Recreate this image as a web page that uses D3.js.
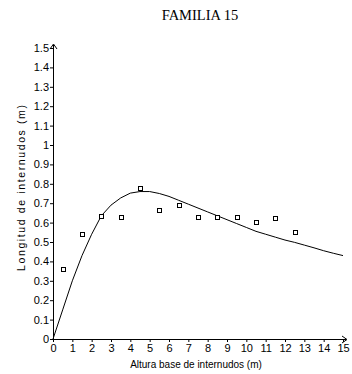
<!DOCTYPE html>
<html>
<head>
<meta charset="utf-8">
<script src="https://cdn.jsdelivr.net/npm/d3@7"></script>
<style>
  body { margin: 0; background: #fff; }
  text { font-family: "Liberation Sans", Arial, sans-serif; }
</style>
</head>
<body>
<svg id="chart"></svg>
<script>
// observed points (squares)
let pointX = [0.5, 1.5, 2.5, 3.5, 4.5, 5.5, 6.5, 7.5, 8.5, 9.5, 10.5, 11.5, 12.5];
let pointY = [0.36, 0.54, 0.635, 0.63, 0.78, 0.665, 0.69, 0.63, 0.63, 0.63, 0.605, 0.625, 0.55];

// fitted curve
let curveX = [0, 0.5, 1, 1.5, 2, 2.5, 3, 3.5, 4, 4.5, 5, 5.5, 6, 6.5, 7, 7.5, 8, 8.5, 9, 9.5, 10, 10.5, 11, 11.5, 12, 12.5, 13, 13.5, 14, 14.5, 15];
let curveY = [0, 0.15, 0.3, 0.43, 0.54, 0.635, 0.69, 0.727, 0.752, 0.76, 0.76, 0.75, 0.735, 0.715, 0.695, 0.675, 0.655, 0.635, 0.615, 0.595, 0.575, 0.555, 0.54, 0.525, 0.51, 0.498, 0.484, 0.47, 0.455, 0.442, 0.43];

let xTicks = d3.range(0, 16);
let yTicks = d3.range(0, 16).map(d => d / 10);

let width = 352;
let height = 374;

let svg = d3.select("#chart")
    .attr("width", width)
    .attr("height", height);

let scaleX = d3.scaleLinear().domain([0, 15]).range([53, 343]);
let scaleY = d3.scaleLinear().domain([0, 1.5]).range([339, 48]);

// title
svg.append("text")
    .attr("x", 200)
    .attr("y", 20)
    .attr("text-anchor", "middle")
    .style("font-family", "'Liberation Serif', 'Times New Roman', serif")
    .style("font-size", "14.5px")
    .text("FAMILIA 15");

// axes
let axisX = d3.axisBottom(scaleX)
    .tickValues(xTicks)
    .tickSize(3)
    .tickPadding(2)
    .tickFormat(d3.format("d"));

let axisY = d3.axisLeft(scaleY)
    .tickValues(yTicks)
    .tickSize(3)
    .tickPadding(1)
    .tickFormat(d => d === 0 ? "0" : d === 1 ? "1" : d3.format(".1f")(d));

let gx = svg.append("g")
    .attr("transform", `translate(0, ${scaleY(0)})`)
    .call(axisX);

let gy = svg.append("g")
    .attr("transform", `translate(${scaleX(0)}, 0)`)
    .call(axisY);

[gx, gy].forEach(g => {
    g.select(".domain").remove();
    g.selectAll("text")
        .style("font-size", "11px")
        .attr("fill", "#000");
    g.selectAll("line").attr("stroke", "#000");
});

// axis lines with arrow heads
svg.append("line")
    .attr("x1", scaleX(0)).attr("x2", scaleX(15) + 3)
    .attr("y1", scaleY(0) + 0.5).attr("y2", scaleY(0) + 0.5)
    .attr("stroke", "#000");
svg.append("path")
    .attr("d", `M${scaleX(15) - 1},${scaleY(0) - 3}L${scaleX(15) + 4},${scaleY(0) + 0.5}L${scaleX(15) - 1},${scaleY(0) + 4}`)
    .attr("fill", "none")
    .attr("stroke", "#000");

svg.append("line")
    .attr("x1", scaleX(0) + 0.5).attr("x2", scaleX(0) + 0.5)
    .attr("y1", scaleY(0)).attr("y2", scaleY(1.5) - 3)
    .attr("stroke", "#000");
svg.append("path")
    .attr("d", `M${scaleX(0) - 3},${scaleY(1.5) + 1}L${scaleX(0) + 0.5},${scaleY(1.5) - 4}L${scaleX(0) + 4},${scaleY(1.5) + 1}`)
    .attr("fill", "none")
    .attr("stroke", "#000");

// axis labels
svg.append("text")
    .attr("x", 196)
    .attr("y", 368)
    .attr("text-anchor", "middle")
    .style("font-size", "10px")
    .text("Altura base de internudos (m)");

svg.append("text")
    .attr("transform", "translate(25, 188) rotate(-90)")
    .attr("text-anchor", "middle")
    .attr("textLength", 166)
    .attr("lengthAdjust", "spacing")
    .style("font-size", "10.5px")
    .text("Longitud de internudos (m)");

// curve
let curve = curveX.map((x, i) => [x, curveY[i]]);
svg.append("path")
    .datum(curve)
    .attr("fill", "none")
    .attr("stroke", "#000")
    .attr("stroke-width", 1)
    .attr("d", d3.line().x(d => scaleX(d[0])).y(d => scaleY(d[1])));

// points
let points = pointX.map((x, i) => [x, pointY[i]]);
svg.append("g")
    .selectAll("rect")
    .data(points)
    .join("rect")
    .attr("x", d => Math.round(scaleX(d[0])) - 2 + 0.5)
    .attr("y", d => Math.round(scaleY(d[1])) - 2 + 0.5)
    .attr("width", 4)
    .attr("height", 4)
    .attr("fill", "#fff")
    .attr("stroke", "#000")
    .attr("stroke-width", 1);
</script>
</body>
</html>
